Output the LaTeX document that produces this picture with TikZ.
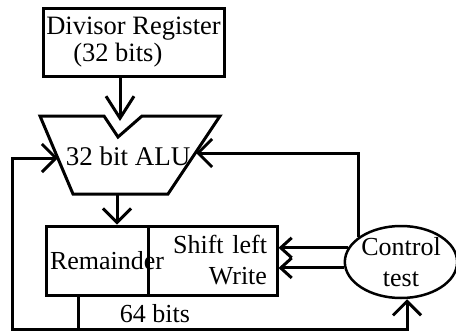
\documentclass[tikz,border=0pt]{standalone}
\usepackage{fontspec}
\setmainfont{Liberation Serif}
\usetikzlibrary{arrows.meta,shapes.geometric}

\begin{document}
\begin{tikzpicture}[x=1pt,y=-1pt,line width=3pt,
  every node/.style={font=\fontsize{26}{31}\selectfont},
  box/.style={draw,rectangle,inner sep=0pt,line width=3pt},
  arr/.style={-{Straight Barb[length=#1,width=28pt]}},arr/.default=14pt,
  sarr/.style={-{Straight Barb[length=11pt,width=20pt]}}]
\useasboundingbox (0,0) rectangle (456,332);
% divisor register
\node (divisor) [box,minimum width=181pt,minimum height=68pt,align=left,font=\fontsize{26.5}{27}\selectfont] at (133.5,42) {Divisor Register\\\hspace*{27pt}(32 bits)};
% the ALU with its notch
\draw (40,116) -- (104,116) -- (118,137) -- (142,116) -- (220,116) -- (168,194) -- (73,194) -- cycle;
\node (alu) [font=\fontsize{27}{31}\selectfont] at (128,156) {32 bit ALU};
\coordinate (aluT) at (120,121);
\coordinate (aluB) at (117,194);
\coordinate (aluL) at (58,158);
\coordinate (aluR) at (196,153);
% remainder register, 64 bits
\node (shift) [box,minimum width=129pt,minimum height=69pt,text width=109pt,inner xsep=10pt,align=right] at (212.5,260.5) {Shift left\\Write};
\node (rem) [box,minimum width=102pt,minimum height=69pt,text width=94pt,inner xsep=4pt,align=left] at (97,260.5) {Remainder};
\node (bits) at (155,314) {64 bits};
% control
\node (ctrl) [draw,ellipse,line width=2.5pt,minimum width=108pt,minimum height=72pt,inner sep=0pt,align=center] at (401,262) {Control\\test};
\coordinate (tap) at (78,295);
\coordinate (loopL) at (12,329);
% data paths
\draw[arr=22pt] (divisor.south -| aluT) -- (aluT);
\draw[arr] (aluB) -- (aluB |- rem.north);
\draw[arr] (tap) |- (loopL) |- (aluL);
\draw[arr] (tap |- loopL) -| ([xshift=6pt]ctrl.south);
\draw[arr] (ctrl.150) |- (aluR);
\draw[sarr] (ctrl.165) -- (ctrl.165 -| shift.east);
\draw[sarr] (ctrl.186) -- (ctrl.186 -| shift.east);
\end{tikzpicture}
\end{document}
